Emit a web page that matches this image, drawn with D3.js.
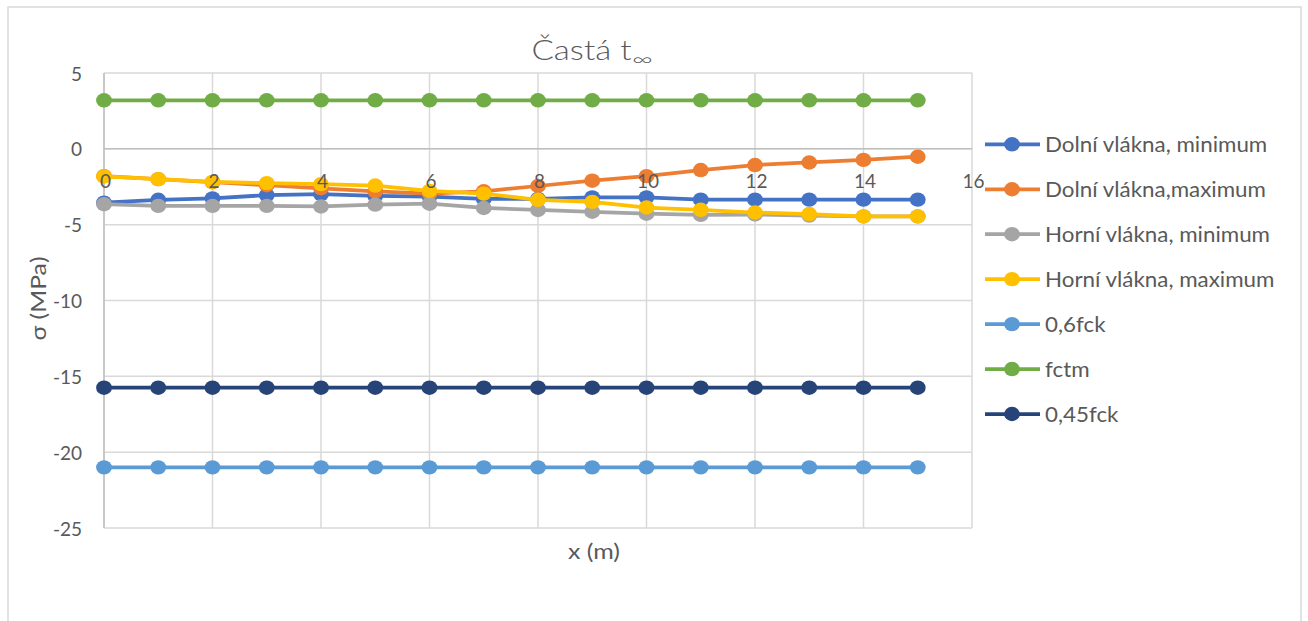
<!DOCTYPE html>
<html>
<head>
<meta charset="utf-8">
<script src="https://cdn.jsdelivr.net/npm/d3@7"></script>
<style>
  html, body { margin: 0; padding: 0; background: #fff; }
  svg { display: block; }
  text { font-family: Lato, "Open Sans", sans-serif; fill: #595959; }
</style>
</head>
<body>
<svg id="chart" width="1308" height="621"></svg>
<script>
// ---------- data ----------
const xValues = [0,1,2,3,4,5,6,7,8,9,10,11,12,13,14,15];
const xTicks = [0,2,4,6,8,10,12,14,16];
const yTicks = [5,0,-5,-10,-15,-20,-25];

const seriesNames = [
  "Dolní vlákna, minimum",
  "Dolní vlákna,maximum",
  "Horní vlákna, minimum",
  "Horní vlákna, maximum",
  "0,6fck",
  "fctm",
  "0,45fck"
];
const seriesColors = ["#4472C4","#ED7D31","#A5A5A5","#FFC000","#5B9BD5","#70AD47","#264478"];

const dolniMin = [-3.55,-3.36,-3.27,-3.05,-2.99,-3.1,-3.15,-3.3,-3.3,-3.2,-3.2,-3.35,-3.35,-3.35,-3.35,-3.35];
const dolniMax = [-1.8,-2.0,-2.2,-2.4,-2.6,-2.8,-2.95,-2.8,-2.45,-2.1,-1.8,-1.4,-1.07,-0.9,-0.73,-0.52];
const horniMin = [-3.65,-3.76,-3.76,-3.76,-3.8,-3.68,-3.62,-3.9,-4.03,-4.15,-4.28,-4.35,-4.33,-4.4,-4.45,-4.45];
const horniMax = [-1.82,-2.0,-2.18,-2.26,-2.33,-2.42,-2.77,-2.95,-3.36,-3.5,-3.87,-4.02,-4.2,-4.3,-4.46,-4.46];
const fck06   = [-21,-21,-21,-21,-21,-21,-21,-21,-21,-21,-21,-21,-21,-21,-21,-21];
const fctm    = [3.2,3.2,3.2,3.2,3.2,3.2,3.2,3.2,3.2,3.2,3.2,3.2,3.2,3.2,3.2,3.2];
const fck045  = [-15.75,-15.75,-15.75,-15.75,-15.75,-15.75,-15.75,-15.75,-15.75,-15.75,-15.75,-15.75,-15.75,-15.75,-15.75,-15.75];

const seriesValues = [dolniMin, dolniMax, horniMin, horniMax, fck06, fctm, fck045];

// ---------- layout ----------
const svg = d3.select("#chart");
const plot = { left: 104, right: 972, top: 73, bottom: 528 };
const x = d3.scaleLinear().domain([0,16]).range([plot.left, plot.right]);
const y = d3.scaleLinear().domain([-25,5]).range([plot.bottom, plot.top]);
const fmt = d => String(d);

// outer chart border
svg.append("rect")
  .attr("x", 8).attr("y", 7).attr("width", 1293).attr("height", 640)
  .attr("fill", "#fff").attr("stroke", "#d9d9d9").attr("stroke-width", 1.5);

// gridlines
const grid = svg.append("g");
grid.selectAll("line.h").data(yTicks).enter().append("line")
  .attr("x1", plot.left).attr("x2", plot.right)
  .attr("y1", d => y(d)).attr("y2", d => y(d))
  .attr("stroke", "#d9d9d9").attr("stroke-width", 1.5);
grid.selectAll("line.v").data(xTicks).enter().append("line")
  .attr("y1", plot.top).attr("y2", plot.bottom)
  .attr("x1", d => x(d)).attr("x2", d => x(d))
  .attr("stroke", "#d9d9d9").attr("stroke-width", 1.5);

// axis lines
svg.append("line").attr("x1", x(0)).attr("x2", x(0)).attr("y1", plot.top).attr("y2", plot.bottom)
  .attr("stroke", "#bfbfbf").attr("stroke-width", 1.5);
svg.append("line").attr("x1", plot.left).attr("x2", plot.right).attr("y1", y(0)).attr("y2", y(0))
  .attr("stroke", "#bfbfbf").attr("stroke-width", 1.5);

// y tick labels
const yAxis = d3.axisLeft(y).tickValues(yTicks).tickSize(0).tickPadding(0).tickFormat(fmt);
const gy = svg.append("g").attr("transform", `translate(${plot.left - 22},1)`).call(yAxis);
gy.select(".domain").remove();
gy.selectAll("text").style("font-size", "19px").style("font-family", "Lato, sans-serif").attr("fill", "#595959");

// series
const line = d3.line().x((d,i) => x(xValues[i])).y(d => y(d));
seriesValues.forEach((vals, si) => {
  const g = svg.append("g");
  g.append("path").datum(vals).attr("d", line)
    .attr("fill", "none").attr("stroke", seriesColors[si]).attr("stroke-width", 3.75)
    .attr("stroke-linejoin", "round");
  g.selectAll("ellipse").data(vals).enter().append("ellipse")
    .attr("cx", (d,i) => x(xValues[i])).attr("cy", d => y(d)).attr("rx", 7.9).attr("ry", 7.2)
    .attr("fill", seriesColors[si]);
});

// x tick labels (placed below the zero line, drawn over the series)
const xAxis = d3.axisBottom(x).tickValues(xTicks).tickSize(0).tickPadding(0).tickFormat(fmt);
const gx = svg.append("g").attr("transform", `translate(1,${y(0) + 33})`).call(xAxis);
gx.select(".domain").remove();
gx.selectAll("text").attr("dy", "0.35em").style("font-size", "19px").style("font-family", "Lato, sans-serif").attr("fill", "#595959");

// title
svg.append("text").attr("x", 531.5).attr("y", 60)
  .attr("textLength", 100).attr("lengthAdjust", "spacingAndGlyphs")
  .style("font-size", "27px").style("font-weight", "300").text("Častá t");
svg.append("text").attr("x", 632).attr("y", 65.5)
  .attr("textLength", 21).attr("lengthAdjust", "spacingAndGlyphs")
  .style("font-size", "19px").style("font-weight", "300").text("∞");

// axis titles
svg.append("text").attr("x", 568).attr("y", 559)
  .attr("textLength", 52).attr("lengthAdjust", "spacingAndGlyphs")
  .style("font-size", "22px").text("x (m)");
svg.append("text").attr("transform", "translate(46,340.5) rotate(-90)")
  .attr("textLength", 84).attr("lengthAdjust", "spacingAndGlyphs")
  .style("font-size", "21px").text("σ (MPa)");

// legend
const legend = svg.append("g");
seriesNames.forEach((name, i) => {
  const ly = 144.3 + i * 44.95;
  legend.append("line").attr("x1", 985).attr("x2", 1040).attr("y1", ly).attr("y2", ly)
    .attr("stroke", seriesColors[i]).attr("stroke-width", 3.75);
  legend.append("ellipse").attr("cx", 1012).attr("cy", ly).attr("rx", 7.9).attr("ry", 7.2).attr("fill", seriesColors[i]);
  legend.append("g").attr("transform", `translate(1045,${ly}) scale(1.04,1)`)
    .append("text").attr("x", 0).attr("y", 0).attr("dy", "0.36em")
    .style("font-size", "21.5px").text(name);
});
</script>
</body>
</html>
